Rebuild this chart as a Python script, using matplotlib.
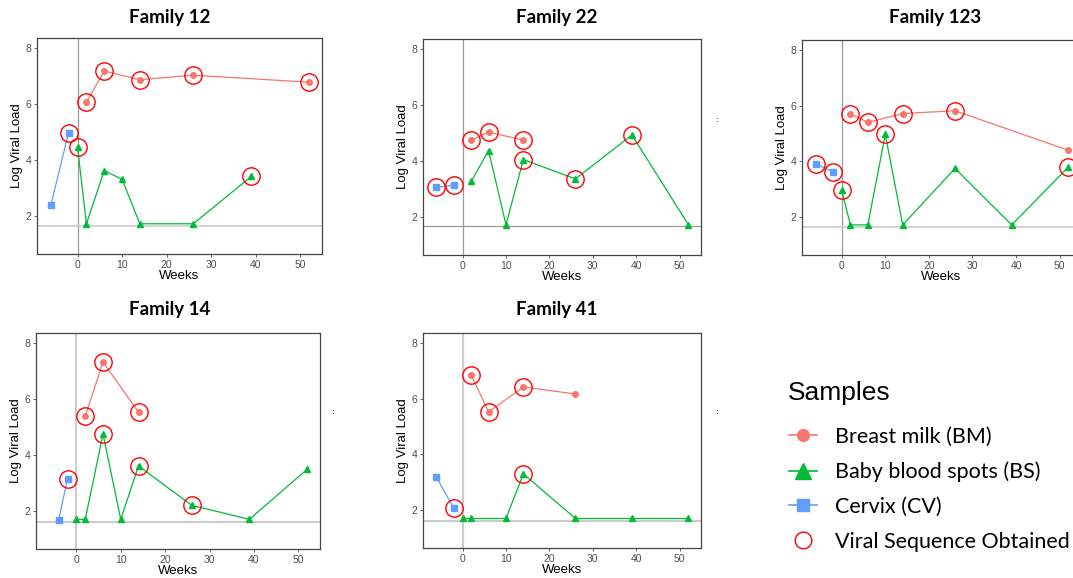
import matplotlib.pyplot as plt
from matplotlib.lines import Line2D

plt.rcParams["font.family"] = ["Liberation Sans", "DejaVu Sans"]

W, H = 1073, 578

# one entry per family panel
families = ["Family 12", "Family 22", "Family 123", "Family 14", "Family 41"]

# breast milk (BM): weeks, log viral load, sequence obtained
bm_weeks = [[2, 6, 14, 26, 52], [2, 6, 14], [2, 6, 14, 26, 52], [2, 6, 14], [2, 6, 14, 26]]
bm_vl = [[6.07, 7.18, 6.87, 7.03, 6.78], [4.75, 5.03, 4.75], [5.72, 5.40, 5.72, 5.82, 4.40],
         [5.39, 7.32, 5.53], [6.85, 5.53, 6.42, 6.17]]
bm_seq = [[1, 1, 1, 1, 1], [1, 1, 1], [1, 1, 1, 1, 0], [1, 1, 1], [1, 1, 1, 0]]

# baby blood spots (BS)
bs_weeks = [[0, 2, 6, 10, 14, 26, 39], [2, 6, 10, 14, 26, 39, 52], [0, 2, 6, 10, 14, 26, 39, 52],
            [0, 2, 6, 10, 14, 26, 39, 52], [0, 2, 10, 14, 26, 39, 52]]
bs_vl = [[4.45, 1.72, 3.62, 3.31, 1.72, 1.72, 3.41], [3.27, 4.37, 1.72, 4.05, 3.36, 4.93, 1.72],
         [2.97, 1.72, 1.72, 4.97, 1.72, 3.75, 1.72, 3.80], [1.7, 1.7, 4.75, 1.7, 3.61, 2.2, 1.7, 3.49],
         [1.7, 1.7, 1.7, 3.30, 1.7, 1.7, 1.7]]
bs_seq = [[1, 0, 0, 0, 0, 0, 1], [0, 0, 0, 1, 1, 1, 0], [1, 0, 0, 1, 0, 0, 0, 1],
          [0, 0, 1, 0, 1, 1, 0, 0], [0, 0, 0, 1, 0, 0, 0]]

# cervix (CV)
cv_weeks = [[-6, -2], [-6, -2], [-6, -2], [-4, -2], [-6, -2]]
cv_vl = [[2.38, 4.98], [3.06, 3.13], [3.91, 3.63], [1.69, 3.14], [3.18, 2.06]]
cv_seq = [[0, 1], [1, 1], [1, 1], [0, 1], [0, 1]]

# detection limit per panel
lod = [1.65, 1.68, 1.66, 1.6, 1.6]

x_ticks = [0, 10, 20, 30, 40, 50]
y_ticks = [2, 4, 6, 8]

bm_col = "#F8766D"
bs_col = "#00BA38"
cv_col = "#619CFF"

# panel boxes in pixels: left, top, right, bottom
boxes = [(37, 38, 322, 254), (423, 39, 701, 255), (802, 40, 1081, 255),
         (36, 333, 320, 549), (423, 333, 701, 548)]
title_xy = [(170, 17), (557, 17), (935, 18), (170, 309), (557, 309)]
vcol = ["#9a9a9a", "#9a9a9a", "#9a9a9a", "#cccccc", "#cccccc"]
hcol = ["#cccccc", "#9a9a9a", "#cccccc", "#cccccc", "#cccccc"]
hlw = [1.2, 0.9, 1.2, 1.5, 1.5]
vlw = [0.9, 0.9, 0.9, 1.5, 1.5]

fig = plt.figure(figsize=(W / 100, H / 100), dpi=100)

for i, name in enumerate(families):
    l, t, r, b = boxes[i]
    ax = fig.add_axes([l / W, 1 - b / H, (r - l) / W, (b - t) / H])
    ax.set_xlim(-9.1, 54.9)
    ax.set_ylim(0.64, 8.36)
    ax.axvline(0, color=vcol[i], lw=vlw[i], zorder=1)
    ax.axhline(lod[i], color=hcol[i], lw=hlw[i], zorder=1)

    ax.plot(cv_weeks[i], cv_vl[i], color=cv_col, lw=0.9, marker="s", ms=4.6, zorder=3)
    ax.plot(bm_weeks[i], bm_vl[i], color=bm_col, lw=0.9, marker="o", ms=4.0, zorder=3)
    ax.plot(bs_weeks[i], bs_vl[i], color=bs_col, lw=0.9, marker="^", ms=5.0, zorder=3)

    # red rings where a viral sequence was obtained
    for wk, vl, sq in [(cv_weeks[i], cv_vl[i], cv_seq[i]),
                       (bm_weeks[i], bm_vl[i], bm_seq[i]),
                       (bs_weeks[i], bs_vl[i], bs_seq[i])]:
        xs = [w for w, s in zip(wk, sq) if s]
        ys = [v for v, s in zip(vl, sq) if s]
        ax.plot(xs, ys, ls="none", marker="o", ms=12.5, mfc="none", mec="red", mew=1.0, zorder=4)

    ax.set_xticks(x_ticks)
    ax.set_yticks(y_ticks)
    ax.tick_params(colors="#4d4d4d", labelsize=7.5, length=2.5, width=0.6, pad=1.5)
    for s in ax.spines.values():
        s.set_color("#444444")
        s.set_linewidth(0.9)
    ax.set_xlabel("Weeks", fontsize=9.5, labelpad=0)
    ax.set_ylabel("Log Viral Load", fontsize=9.5, labelpad=2)

    tx, ty = title_xy[i]
    fig.text(tx / W, 1 - ty / H, name, ha="center", va="center", fontsize=13.5,
             fontweight="bold", family="Lato")

# clipped bits of neighbouring legends
for px, py in [(717, 121), (333, 412), (717, 413)]:
    fig.text(px / W, 1 - py / H, ":", ha="center", va="center", fontsize=6,
             color="#333333", fontweight="bold")

fig.text(788 / W, 1 - 393 / H, "Samples", ha="left", va="center", fontsize=19)

handles = [
    Line2D([], [], color=bm_col, lw=1.2, marker="o", ms=8.5),
    Line2D([], [], color=bs_col, lw=1.2, marker="^", ms=11),
    Line2D([], [], color=cv_col, lw=1.2, marker="s", ms=8),
    Line2D([], [], ls="none", marker="o", ms=12, mfc="none", mec="red", mew=1.0),
]
labels = ["Breast milk (BM)", "Baby blood spots (BS)", "Cervix (CV)", "Viral Sequence Obtained"]
fig.legend(handles, labels, loc="upper left", bbox_to_anchor=(789 / W, 1 - 427 / H),
           frameon=False, prop={"family": "Lato", "size": 15.5}, handlelength=1.3,
           handletextpad=0.84, labelspacing=0.68, borderpad=0, borderaxespad=0)

fig.savefig("out.png", dpi=100)
